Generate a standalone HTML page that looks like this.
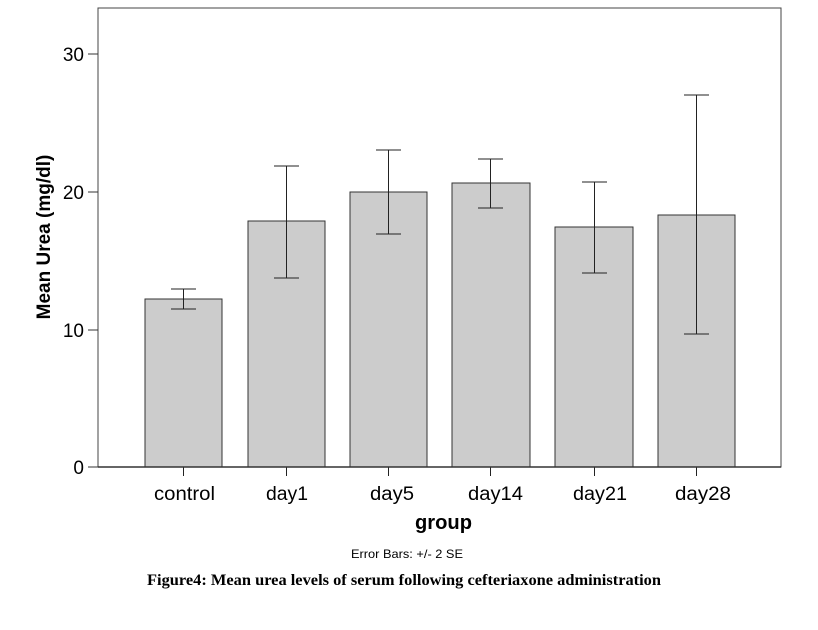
<!DOCTYPE html>
<html><head><style>body{margin:0;background:#fff}</style></head><body>
<svg width="818" height="625" xmlns="http://www.w3.org/2000/svg" font-family="Liberation Sans, sans-serif">
<rect x="98" y="8" width="683" height="459" fill="#fff" stroke="#444" stroke-width="1"/>
<g stroke="#333" stroke-width="1">
<line x1="88" y1="467" x2="98" y2="467"/><line x1="88" y1="330" x2="98" y2="330"/>
<line x1="88" y1="192" x2="98" y2="192"/><line x1="88" y1="54" x2="98" y2="54"/>
</g>
<g font-size="19" text-anchor="end" fill="#000">
<text x="84" y="474">0</text><text x="84" y="337">10</text><text x="84" y="199">20</text><text x="84" y="61">30</text>
</g>
<g fill="#cccccc" stroke="#333" stroke-width="1">
<rect x="145" y="299" width="77" height="168"/>
<rect x="248" y="221" width="77" height="246"/>
<rect x="350" y="192" width="77" height="275"/>
<rect x="452" y="183" width="78" height="284"/>
<rect x="555" y="227" width="78" height="240"/>
<rect x="658" y="215" width="77" height="252"/>
</g>
<g stroke="#222" stroke-width="1" fill="none">
<path d="M183.5 289V309M171 289H196M171 309H196"/>
<path d="M286.5 166V278M274 166H299M274 278H299"/>
<path d="M388.5 150V234M376 150H401M376 234H401"/>
<path d="M490.5 159V208M478 159H503M478 208H503"/>
<path d="M594.5 182V273M582 182H607M582 273H607"/>
<path d="M696.5 95V334M684 95H709M684 334H709"/>
<path d="M183.5 467V476M286.5 467V476M388.5 467V476M490.5 467V476M594.5 467V476M696.5 467V476"/>
</g>
<line x1="98" y1="467" x2="781" y2="467" stroke="#333" stroke-width="1.5"/>
<g font-size="19" fill="#000" lengthAdjust="spacingAndGlyphs">
<text x="154" y="500" textLength="61" lengthAdjust="spacingAndGlyphs">control</text>
<text x="266" y="500" textLength="42" lengthAdjust="spacingAndGlyphs">day1</text>
<text x="370" y="500" textLength="44" lengthAdjust="spacingAndGlyphs">day5</text>
<text x="468" y="500" textLength="55" lengthAdjust="spacingAndGlyphs">day14</text>
<text x="573" y="500" textLength="54" lengthAdjust="spacingAndGlyphs">day21</text>
<text x="675" y="500" textLength="56" lengthAdjust="spacingAndGlyphs">day28</text>
</g>
<text x="415" y="529" font-size="20" font-weight="bold" textLength="57" lengthAdjust="spacingAndGlyphs">group</text>
<text x="50" y="237" font-size="19" font-weight="bold" text-anchor="middle" transform="rotate(-90 50 237)">Mean Urea (mg/dl)</text>
<text x="351" y="558" font-size="12" textLength="112" lengthAdjust="spacingAndGlyphs">Error Bars: +/- 2 SE</text>
<text x="147" y="585" font-size="16" font-weight="bold" textLength="514" lengthAdjust="spacingAndGlyphs" font-family="Liberation Serif, serif">Figure4: Mean urea levels of serum following cefteriaxone administration</text>
</svg>
</body></html>
